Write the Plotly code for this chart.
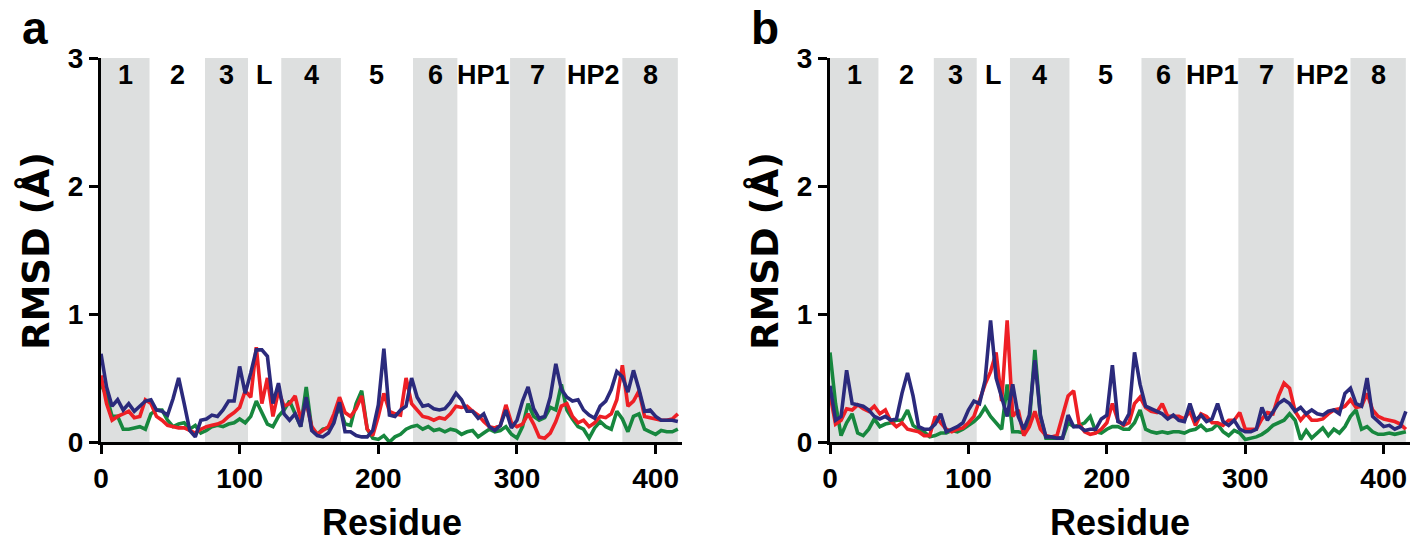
import plotly.graph_objects as go

# ---------------- data ----------------
residues = list(range(0, 420, 4))  # 0..416

# panel a
a_red = [0.52,0.30,0.17,0.20,0.22,0.24,0.19,0.20,0.33,0.30,0.20,0.17,0.13,0.12,0.11,0.11,
         0.09,0.07,0.10,0.12,0.13,0.14,0.16,0.20,0.23,0.27,0.40,0.35,0.74,0.30,0.50,0.20,
         0.40,0.28,0.30,0.36,0.18,0.31,0.12,0.06,0.09,0.12,0.22,0.35,0.23,0.20,0.26,0.36,
         0.10,0.05,0.20,0.38,0.24,0.22,0.21,0.50,0.30,0.25,0.20,0.19,0.17,0.19,0.18,0.22,
         0.28,0.27,0.28,0.24,0.21,0.16,0.12,0.11,0.13,0.29,0.15,0.12,0.14,0.22,0.14,0.04,
         0.03,0.07,0.16,0.28,0.30,0.20,0.15,0.17,0.12,0.15,0.20,0.19,0.22,0.33,0.60,0.28,
         0.32,0.40,0.20,0.19,0.18,0.17,0.17,0.18,0.22]
a_green = [0.45,0.36,0.20,0.20,0.10,0.10,0.11,0.12,0.10,0.22,0.25,0.25,0.17,0.12,0.14,0.15,
           0.10,0.13,0.07,0.09,0.12,0.13,0.12,0.14,0.15,0.18,0.15,0.20,0.32,0.23,0.14,0.12,
           0.20,0.25,0.32,0.22,0.12,0.43,0.10,0.06,0.10,0.11,0.18,0.27,0.14,0.13,0.30,0.40,
           0.10,0.03,0.02,0.05,0.00,0.04,0.06,0.10,0.12,0.13,0.10,0.12,0.09,0.10,0.08,0.10,
           0.09,0.06,0.08,0.09,0.04,0.07,0.10,0.08,0.09,0.12,0.06,0.03,0.12,0.30,0.20,0.17,
           0.19,0.27,0.25,0.45,0.25,0.18,0.12,0.10,0.03,0.11,0.16,0.12,0.10,0.24,0.18,0.08,
           0.20,0.22,0.10,0.08,0.06,0.09,0.08,0.08,0.10]
a_navy = [0.69,0.43,0.28,0.33,0.25,0.30,0.24,0.28,0.32,0.33,0.25,0.24,0.21,0.34,0.50,0.30,
          0.09,0.04,0.17,0.18,0.21,0.20,0.25,0.32,0.32,0.59,0.38,0.54,0.72,0.72,0.67,0.30,
          0.46,0.22,0.17,0.22,0.12,0.35,0.09,0.05,0.04,0.07,0.15,0.31,0.08,0.08,0.05,0.04,
          0.04,0.09,0.29,0.73,0.21,0.20,0.25,0.28,0.50,0.35,0.28,0.29,0.26,0.25,0.26,0.31,
          0.38,0.33,0.24,0.24,0.185,0.22,0.12,0.09,0.13,0.25,0.11,0.17,0.32,0.43,0.26,0.185,
          0.20,0.35,0.61,0.41,0.35,0.32,0.33,0.25,0.21,0.185,0.28,0.32,0.41,0.55,0.51,0.39,
          0.56,0.41,0.24,0.25,0.20,0.17,0.17,0.17,0.16]

# panel b
b_red = [0.37,0.14,0.17,0.26,0.25,0.29,0.26,0.24,0.28,0.22,0.25,0.16,0.12,0.15,0.10,0.09,
         0.08,0.05,0.05,0.20,0.15,0.10,0.08,0.10,0.11,0.15,0.20,0.33,0.45,0.55,0.70,0.32,
         0.95,0.20,0.25,0.05,0.12,0.24,0.10,0.05,0.04,0.05,0.20,0.36,0.40,0.14,0.08,0.06,
         0.07,0.10,0.15,0.30,0.17,0.13,0.15,0.30,0.35,0.27,0.24,0.23,0.30,0.20,0.20,0.20,
         0.18,0.24,0.13,0.22,0.20,0.15,0.15,0.13,0.17,0.17,0.23,0.10,0.10,0.10,0.18,0.23,
         0.22,0.36,0.46,0.42,0.24,0.17,0.22,0.17,0.17,0.18,0.22,0.25,0.26,0.28,0.33,0.27,
         0.28,0.38,0.25,0.20,0.18,0.17,0.16,0.14,0.10]
b_green = [0.70,0.30,0.05,0.15,0.22,0.07,0.05,0.10,0.18,0.12,0.14,0.15,0.17,0.17,0.25,0.13,
           0.10,0.08,0.04,0.05,0.07,0.07,0.09,0.08,0.10,0.13,0.16,0.20,0.27,0.20,0.15,0.10,
           0.45,0.08,0.08,0.07,0.15,0.72,0.20,0.03,0.03,0.03,0.03,0.15,0.12,0.13,0.15,0.20,
           0.08,0.07,0.10,0.12,0.12,0.10,0.10,0.15,0.25,0.10,0.08,0.07,0.08,0.07,0.08,0.08,
           0.07,0.09,0.10,0.13,0.09,0.10,0.14,0.08,0.05,0.09,0.07,0.02,0.03,0.04,0.06,0.09,
           0.13,0.15,0.17,0.22,0.17,0.02,0.09,0.03,0.07,0.11,0.05,0.10,0.07,0.12,0.20,0.25,
           0.10,0.12,0.08,0.06,0.06,0.07,0.06,0.07,0.08]
b_navy = [0.44,0.17,0.20,0.56,0.30,0.29,0.28,0.25,0.20,0.18,0.20,0.17,0.18,0.38,0.54,0.36,
          0.12,0.10,0.10,0.14,0.22,0.08,0.10,0.12,0.15,0.25,0.32,0.30,0.48,0.95,0.50,0.35,
          0.20,0.45,0.20,0.10,0.21,0.64,0.21,0.04,0.04,0.03,0.03,0.21,0.12,0.12,0.09,0.10,
          0.10,0.18,0.21,0.60,0.16,0.14,0.22,0.70,0.45,0.28,0.26,0.24,0.22,0.18,0.21,0.17,
          0.16,0.30,0.17,0.21,0.16,0.18,0.30,0.16,0.13,0.17,0.10,0.08,0.08,0.10,0.27,0.17,
          0.24,0.30,0.33,0.30,0.24,0.27,0.22,0.25,0.22,0.21,0.24,0.25,0.22,0.38,0.42,0.30,
          0.28,0.50,0.20,0.16,0.12,0.13,0.10,0.12,0.24]

segment_edges = [0, 35, 75, 106, 130, 173, 225, 257, 295, 335, 376, 416]
segment_labels = ["1", "2", "3", "L", "4", "5", "6", "HP1", "7", "HP2", "8"]
shaded_segments = ["1", "3", "4", "6", "7", "8"]

x_ticks = [0, 100, 200, 300, 400]
y_ticks = [0, 1, 2, 3]
panel_letters = ["a", "b"]
x_title = "Residue"
y_title = "RMSD (Å)"

# ---------------- style ----------------
RED = "#ee1f25"
GREEN = "#17873e"
NAVY = "#2b2a7c"
GRAY = "#dddfdf"
SANS = "Liberation Sans, Arial, sans-serif"
WIDE = "DejaVu Sans, Liberation Sans, sans-serif"

W, H = 1422, 545
x_doms = [[101 / W, 682 / W], [830 / W, 1410 / W]]
ydom = [(H - 442) / H, (H - 58) / H]

fig = go.Figure()

panels = [
    (a_green, a_red, a_navy, "x", "y"),
    (b_green, b_red, b_navy, "x2", "y2"),
]
for green, red, navy, xa, ya in panels:
    for vals, col in ((green, GREEN), (red, RED), (navy, NAVY)):
        fig.add_trace(go.Scatter(x=residues, y=vals, mode="lines",
                                 line=dict(color=col, width=3.6),
                                 xaxis=xa, yaxis=ya, showlegend=False,
                                 hoverinfo="skip"))

shapes = []
annotations = []
for (xa, ya), dom, letter, lpx in zip((("x", "y"), ("x2", "y2")), x_doms,
                                       panel_letters, (35, 765)):
    for i, lab in enumerate(segment_labels):
        x0, x1 = segment_edges[i], segment_edges[i + 1]
        if lab in shaded_segments:
            shapes.append(dict(type="rect", xref=xa, yref=ya, x0=x0, x1=x1,
                               y0=0, y1=3, fillcolor=GRAY, line=dict(width=0),
                               layer="below"))
        annotations.append(dict(x=(x0 + x1) / 2, y=2.87, xref=xa, yref=ya,
                                text=lab, showarrow=False,
                                font=dict(family=SANS, size=27, color="black",
                                          weight="bold"),
                                xanchor="center", yanchor="middle"))
    # panel letter
    annotations.append(dict(x=lpx / W, y=1.0, xref="paper", yref="paper",
                            text=letter, showarrow=False,
                            font=dict(family=SANS, size=46, color="black", weight="bold"),
                            xanchor="center", yanchor="top"))
    # x title
    annotations.append(dict(x=(dom[0] + dom[1]) / 2, y=1 - 522 / H,
                            xref="paper", yref="paper", text=x_title, showarrow=False,
                            font=dict(family=SANS, size=36, color="black", weight="bold"),
                            xanchor="center", yanchor="middle"))
    # y title
    annotations.append(dict(x=dom[0] - 65 / W, y=1 - 251 / H,
                            xref="paper", yref="paper", text=y_title, showarrow=False,
                            textangle=-90,
                            font=dict(family=WIDE, size=37, color="black", weight="bold"),
                            xanchor="center", yanchor="middle"))

axis_common = dict(showline=True, linecolor="black", linewidth=3,
                   ticks="outside", ticklen=9, tickwidth=3, tickcolor="black",
                   showgrid=False, zeroline=False, automargin=False,
                   tickfont=dict(family=SANS, size=28, color="black", weight="bold"))

fig.update_layout(
    width=W, height=H,
    margin=dict(l=0, r=0, t=0, b=0, autoexpand=False),
    plot_bgcolor="white", paper_bgcolor="white",
    xaxis=dict(domain=x_doms[0], anchor="y", range=[0, 419], tickvals=x_ticks, **axis_common),
    yaxis=dict(domain=ydom, anchor="x", range=[0, 3], tickvals=y_ticks, **axis_common),
    xaxis2=dict(domain=x_doms[1], anchor="y2", range=[0, 419], tickvals=x_ticks, **axis_common),
    yaxis2=dict(domain=ydom, anchor="x2", range=[0, 3], tickvals=y_ticks, **axis_common),
    shapes=shapes,
    annotations=annotations,
    showlegend=False,
)

fig.write_html("out.html", config={"displayModeBar": False},
               post_script="document.body.style.margin='0px';")
